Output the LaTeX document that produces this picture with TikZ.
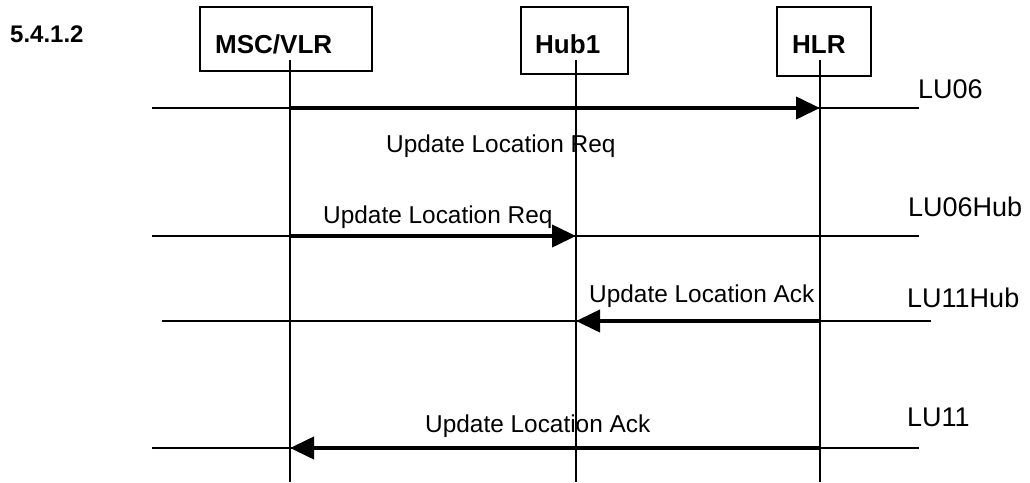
\documentclass[tikz,border=0pt]{standalone}
\usepackage{fontspec}
\setmainfont{Liberation Sans}
\usetikzlibrary{arrows.meta}
\begin{document}
\begin{tikzpicture}[x=1pt,y=-1pt,
  box/.style={draw, line width=1.2pt, inner sep=0pt},
  head/.style={font=\fontsize{26}{30}\selectfont\bfseries, anchor=base west, inner sep=0pt},
  sect/.style={font=\fontsize{24}{28}\selectfont\bfseries, anchor=base west, inner sep=0pt},
  msg/.style={font=\fontsize{24.4}{28}\selectfont, anchor=base west, inner sep=0pt},
  tag/.style={font=\fontsize{27}{30}\selectfont, anchor=base west, inner sep=0pt},
  life/.style={line width=1.2pt},
  rail/.style={line width=1.3pt},
  call/.style={line width=4pt, -{Triangle[length=24pt,width=22pt]}},
]
\useasboundingbox (0,0) rectangle (1030,482);

% section number
\node[sect] (sec) at (10,42) {5.4.1.2};

% participant boxes
\node[box, minimum width=172pt, minimum height=64pt] (msc) at (286,39) {};
\node[box, minimum width=107pt, minimum height=67pt] (hub) at (574.5,40.5) {};
\node[box, minimum width=94pt, minimum height=69pt] (hlr) at (824,41.5) {};
\node[head] (msct) at (215,53) {MSC/VLR};
\node[head] (hubt) at (535,53) {Hub1};
\node[head] (hlrt) at (792,53) {HLR};

% lifelines
\coordinate (mtop) at (290,60); \coordinate (mbot) at (290,482);
\coordinate (htop) at (576,60); \coordinate (hbot) at (576,482);
\coordinate (ltop) at (820,60); \coordinate (lbot) at (820,482);
\draw[life] (mtop) -- (mbot);
\draw[life] (htop) -- (hbot);
\draw[life] (ltop) -- (lbot);

% row coordinates
\coordinate (r1l) at (152,108); \coordinate (r1r) at (919,108);
\coordinate (m1) at (290,108); \coordinate (l1) at (820,108);
\coordinate (r2l) at (152,236); \coordinate (r2r) at (919,236);
\coordinate (m2) at (290,236); \coordinate (h2) at (576,236);
\coordinate (r3l) at (162,321); \coordinate (r3r) at (931,321);
\coordinate (h3) at (576,321); \coordinate (l3) at (820,321);
\coordinate (r4l) at (152,448); \coordinate (r4r) at (919,448);
\coordinate (m4) at (290,448); \coordinate (l4) at (820,448);

% rails
\draw[rail] (r1l) -- (r1r);
\draw[rail] (r2l) -- (r2r);
\draw[rail] (r3l) -- (r3r);
\draw[rail] (r4l) -- (r4r);

% messages
\draw[call] (m1) -- (l1);
\draw[call] (m2) -- (h2);
\draw[call] (l3) -- (h3);
\draw[call] (l4) -- (m4);

% message labels
\node[msg] (t1) at (386,152) {Update Location Req};
\node[msg] (t2) at (323,223) {Update Location Req};
\node[msg] (t3) at (589,302) {Update Location Ack};
\node[msg] (t4) at (425,432) {Update Location Ack};

% tags
\node[tag] (g1) at (918,98) {LU06};
\node[tag] (g2) at (908,216) {LU06Hub};
\node[tag] (g3) at (907,307) {LU11Hub};
\node[tag] (g4) at (907,426) {LU11};
\end{tikzpicture}
\end{document}
